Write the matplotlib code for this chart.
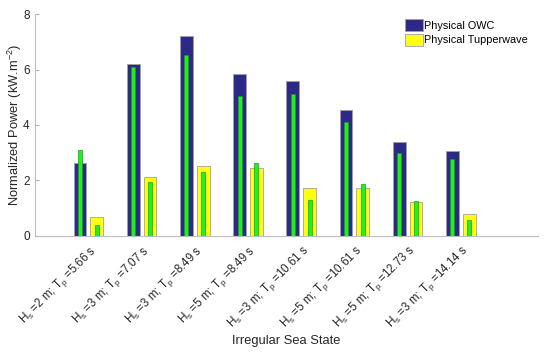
import numpy as np
import matplotlib
matplotlib.use("Agg")
from matplotlib import pyplot as plt

plt.rcParams['font.family'] = ['Liberation Sans', 'DejaVu Sans']
plt.rcParams['mathtext.fontset'] = 'custom'
plt.rcParams['mathtext.rm'] = 'Liberation Sans'
plt.rcParams['mathtext.it'] = 'Liberation Sans'

# sea states
hs = ['2', '3', '3', '5', '3', '5', '5', '3']
tp = ['5.66', '7.07', '8.49', '8.49', '10.61', '10.61', '12.73', '14.14']
labels = [r'H$_\mathregular{s}$ =%s m; T$_\mathregular{p}$ =%s s' % (h, t) for h, t in zip(hs, tp)]

# physical results
owc_phys = [2.62, 6.2, 7.22, 5.83, 5.6, 4.55, 3.38, 3.05]
tup_phys = [0.69, 2.11, 2.51, 2.46, 1.71, 1.74, 1.21, 0.77]
# numerical results (green bars)
owc_num = [3.1, 6.1, 6.52, 5.04, 5.12, 4.1, 2.98, 2.77]
tup_num = [0.38, 1.95, 2.32, 2.62, 1.3, 1.88, 1.25, 0.58]

x = np.arange(1, len(labels) + 1)
off = 0.157
wide = 0.24
thin = 0.075

fig, ax = plt.subplots(figsize=(5.5, 3.52), dpi=100)
fig.subplots_adjust(left=0.064, right=0.978, top=0.96, bottom=0.33)

ax.bar(x - off, owc_phys, wide, color='#2c2a86', edgecolor='#a0a0a0', linewidth=0.6,
       label='Physical OWC', zorder=2)
ax.bar(x + off, tup_phys, wide, color='#ffff10', edgecolor='#a0a0a0', linewidth=0.6,
       label='Physical Tupperwave', zorder=2)
ax.bar(x - off, owc_num, thin, color='#22ee22', edgecolor='#18a018', linewidth=0.5, zorder=3)
ax.bar(x + off, tup_num, thin, color='#22ee22', edgecolor='#18a018', linewidth=0.5, zorder=3)

ax.set_xlim(0, 9.45)
ax.set_ylim(0, 8)
ax.set_yticks([0, 2, 4, 6, 8])
ax.set_xticks(x)
ax.set_xticklabels(labels, rotation=45, ha='right', rotation_mode='anchor', fontsize=8.3)
ax.tick_params(axis='both', direction='in', length=3, color='#b0b0b0', labelsize=8.5,
               labelcolor='#262626')
ax.tick_params(axis='x', length=0, pad=5, labelsize=8.3)
ax.tick_params(axis='y', pad=4)
for s in ['top', 'right']:
    ax.spines[s].set_visible(False)
for s in ['left', 'bottom']:
    ax.spines[s].set_color('#bdbdbd')
    ax.spines[s].set_linewidth(0.8)

ax.set_ylabel(r'Normalized Power (kW.m$^{\mathregular{-2}}$)', fontsize=9.3, color='#262626',
              labelpad=-1)
ax.set_xlabel('Irregular Sea State', fontsize=9.3, color='#262626', labelpad=2)

ax.legend(loc='upper right', bbox_to_anchor=(1.0, 1.02), frameon=False, fontsize=7.8,
          handlelength=1.6, handleheight=1.3, handletextpad=0.15, labelspacing=0.25)

plt.savefig('out.png', dpi=100)
